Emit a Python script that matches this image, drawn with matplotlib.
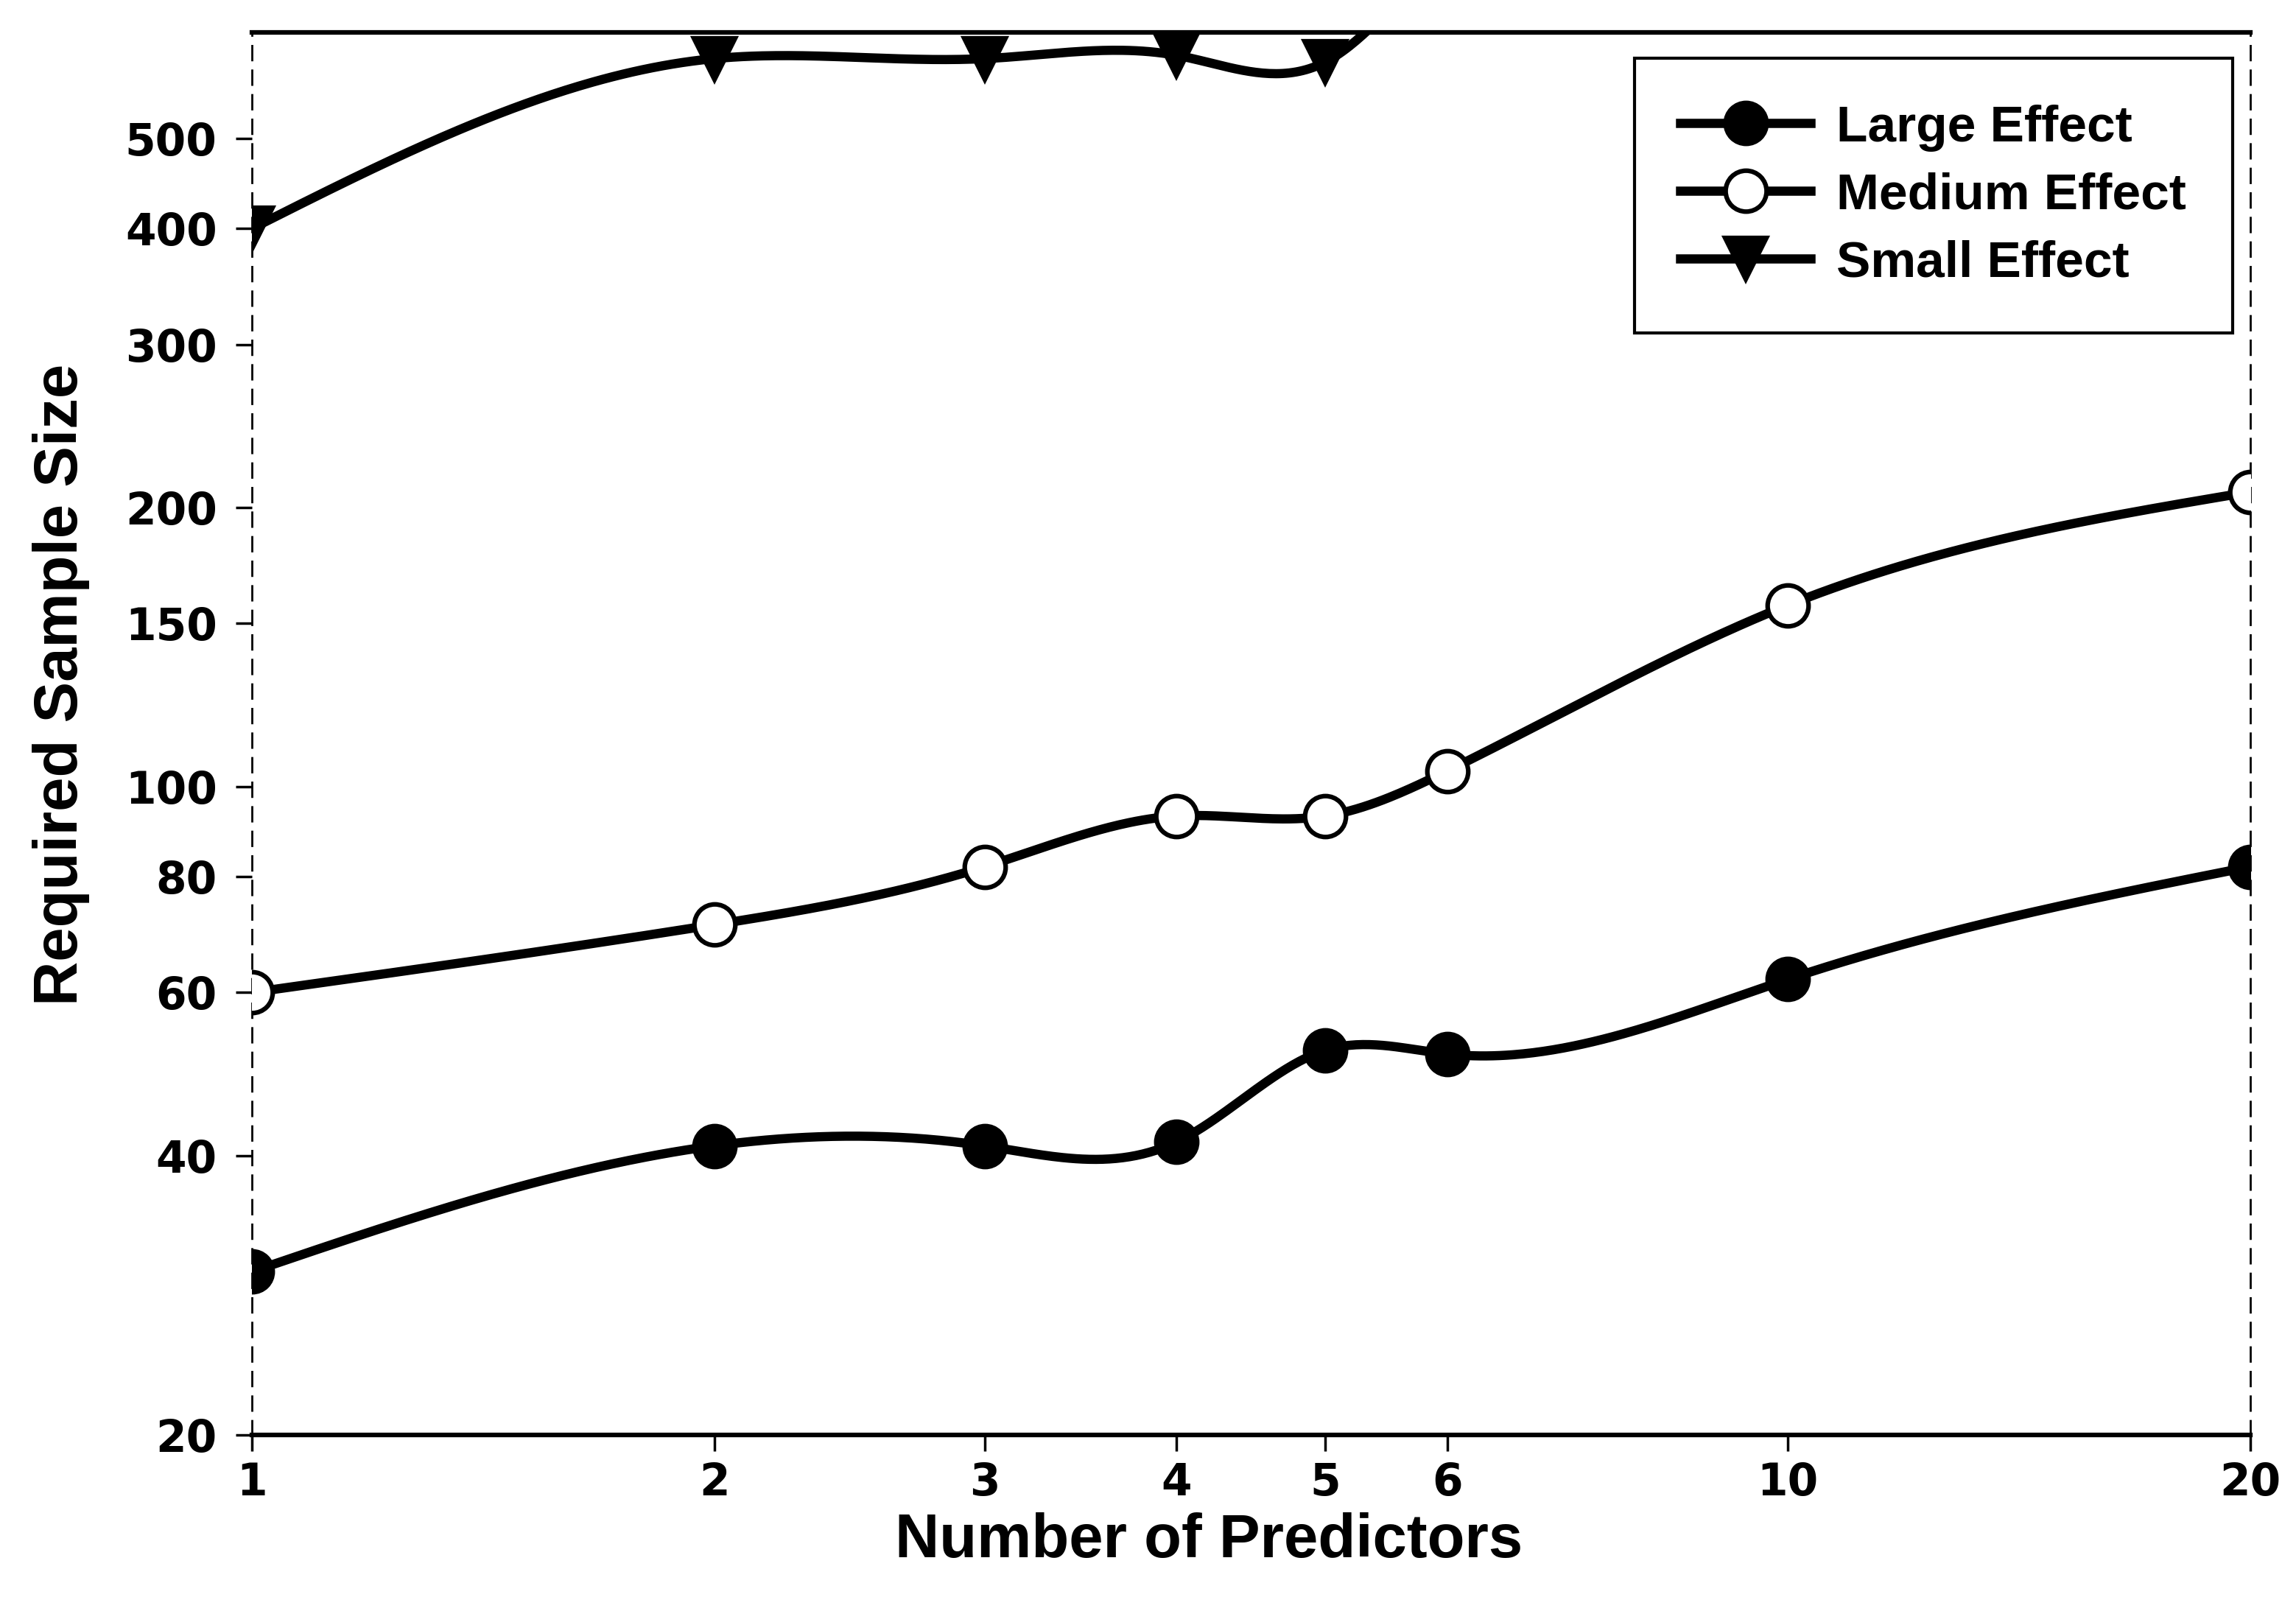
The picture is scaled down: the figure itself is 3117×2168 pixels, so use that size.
import numpy as np
import matplotlib
matplotlib.use("Agg")
import matplotlib.pyplot as plt
from matplotlib.ticker import FixedLocator, NullLocator, FixedFormatter

# values (log-log axes)
predictors = [1, 2, 3, 4, 5, 6, 10, 20]
large_effect = [30, 41, 41, 41.4, 52, 51.5, 62, 82]
medium_effect = [60, 71, 82, 93, 93, 104, 157, 208]
# last points run off the top of the chart
small_effect = [400, 610, 610, 615, 605, 800, 1000, 1300]

x_ticks = [1, 2, 3, 4, 5, 6, 10, 20]
y_ticks = [20, 40, 60, 80, 100, 150, 200, 300, 400, 500]


def smooth(xs, ys, n=600):
    # natural cubic spline through the points, done in log-log space
    lx = np.log10(xs)
    ly = np.log10(ys)
    k = len(lx)
    h = np.diff(lx)
    A = np.zeros((k, k))
    r = np.zeros(k)
    A[0, 0] = 1
    A[-1, -1] = 1
    for i in range(1, k - 1):
        A[i, i - 1] = h[i - 1]
        A[i, i] = 2 * (h[i - 1] + h[i])
        A[i, i + 1] = h[i]
        r[i] = 6 * ((ly[i + 1] - ly[i]) / h[i] - (ly[i] - ly[i - 1]) / h[i - 1])
    M = np.linalg.solve(A, r)
    gx = np.linspace(lx[0], lx[-1], n)
    gy = np.empty_like(gx)
    for j, t in enumerate(gx):
        i = min(np.searchsorted(lx, t, side="right") - 1, k - 2)
        a = lx[i + 1] - t
        b = t - lx[i]
        gy[j] = (M[i] * a ** 3 / (6 * h[i]) + M[i + 1] * b ** 3 / (6 * h[i])
                 + (ly[i] / h[i] - M[i] * h[i] / 6) * a
                 + (ly[i + 1] / h[i] - M[i + 1] * h[i] / 6) * b)
    return 10 ** gx, 10 ** gy


plt.rcParams["font.family"] = ["Liberation Sans", "DejaVu Sans"]
plt.rcParams["font.weight"] = "bold"

fig = plt.figure(figsize=(31.17, 21.68), dpi=100)
ax = fig.add_axes([0.1097, 0.1015, 0.8704, 0.8782])

lw = 9
ms = 40
series = [
    ("Large Effect", large_effect, dict(marker="o", mfc="black", mec="black")),
    ("Medium Effect", medium_effect, dict(marker="o", mfc="white", mec="black")),
    ("Small Effect", small_effect, dict(marker="v", mfc="black", mec="black")),
]
for name, vals, style in series:
    sx, sy = smooth(predictors, vals)
    ax.plot(sx, sy, color="black", lw=lw, zorder=2)
    ax.plot(predictors, vals, linestyle="none", ms=ms, mew=4.5, zorder=3, **style)
    # legend proxy
    ax.plot([], [], color="black", lw=lw, ms=ms, mew=4.5, label=name, **style)

ax.set_xscale("log")
ax.set_yscale("log")
ax.set_xlim(1, 20)
ax.set_ylim(20, 651)

ax.xaxis.set_major_locator(FixedLocator(x_ticks))
ax.xaxis.set_major_formatter(FixedFormatter([str(v) for v in x_ticks]))
ax.xaxis.set_minor_locator(NullLocator())
ax.yaxis.set_major_locator(FixedLocator(y_ticks))
ax.yaxis.set_major_formatter(FixedFormatter([str(v) for v in y_ticks]))
ax.yaxis.set_minor_locator(NullLocator())

ax.tick_params(axis="both", direction="out", length=16, width=2.5)
ax.tick_params(axis="y", pad=18)
ax.tick_params(axis="x", pad=10)
for lab in ax.get_xticklabels() + ax.get_yticklabels():
    lab.set_fontfamily("DejaVu Sans")
    lab.set_fontweight("bold")
    lab.set_fontsize(43)

ax.spines["top"].set_linewidth(4.5)
ax.spines["bottom"].set_linewidth(4.5)
for side in ["left", "right"]:
    ax.spines[side].set_linewidth(2)
    ax.spines[side].set_linestyle((0, (7, 5)))

ax.set_xlabel("Number of Predictors", fontsize=60, fontweight="bold")
ax.set_ylabel("Required Sample Size", fontsize=60, fontweight="bold")
ax.xaxis.set_label_coords(0.479, -0.055)
ax.yaxis.set_label_coords(-0.081, 0.535)
ax.xaxis.label.set_va("top")
ax.yaxis.label.set_va("bottom")

leg = ax.legend(loc="upper right", bbox_to_anchor=(0.991, 0.9815),
                borderaxespad=0, fontsize=50, handlelength=2.55,
                handletextpad=0.5, borderpad=0.9, labelspacing=0.4,
                fancybox=False, framealpha=1)
leg.get_frame().set_edgecolor("black")
leg.get_frame().set_linewidth(3)
for t in leg.get_texts():
    t.set_fontweight("bold")

plt.savefig("out.png", dpi=100, facecolor="white")
